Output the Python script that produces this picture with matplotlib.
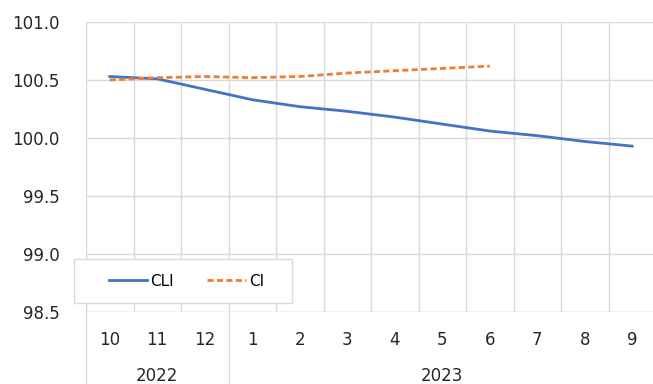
import numpy as np
import matplotlib.pyplot as plt
import matplotlib.transforms as mtransforms
from matplotlib.patches import Rectangle

months = ['10', '11', '12', '1', '2', '3', '4', '5', '6', '7', '8', '9']
years = ['2022', '2023']
year_spans = [(0, 3), (3, 12)]
cli = [100.53, 100.51, 100.42, 100.33, 100.27, 100.23, 100.18, 100.12, 100.06, 100.02, 99.97, 99.93]
ci = [100.50, 100.52, 100.53, 100.52, 100.53, 100.56, 100.58, 100.60, 100.62]

W, H = 653, 384
fig = plt.figure(figsize=(W/100, H/100), dpi=100)
ax = fig.add_axes([86/W, 72/H, 570/W, 290/H])
x = np.arange(len(months))

ax.plot(x, cli, color='#4472c4', lw=2, label='CLI')
ax.plot(x[:len(ci)], ci, color='#ed7d31', lw=2, ls=(0, (2.2, 1.2)), label='CI')

ax.set_xlim(-0.5, 11.5)
ax.set_ylim(98.5, 101.0)
ax.set_yticks(np.arange(98.5, 101.01, 0.5))
ax.set_yticklabels([f'{v:.1f}' for v in np.arange(98.5, 101.01, 0.5)], fontsize=12)
ax.set_xticks(x)
ax.set_xticklabels(months, fontsize=12)
ax.tick_params(axis='both', which='both', length=0, colors='#262626')
ax.tick_params(axis='x', pad=14)
ax.tick_params(axis='y', pad=19)
ax.set_xticks(np.arange(-0.5, 12, 1), minor=True)
ax.grid(True, which='minor', axis='x', color='#d9d9d9', lw=1)
ax.grid(True, which='major', axis='y', color='#d9d9d9', lw=1)
for s in ['top', 'right', 'bottom']:
    ax.spines[s].set_visible(False)
ax.spines['left'].set_color('#d9d9d9')
ax.set_axisbelow(True)

trans = mtransforms.blended_transform_factory(ax.transData, ax.transAxes)
for (a, b), yr in zip(year_spans, years):
    ax.text((a + b - 1) / 2, -0.22, yr, transform=trans, ha='center', va='center',
            fontsize=12, color='#262626')
    ax.plot([a - 0.5, a - 0.5], [0, -0.26], transform=trans, color='#d9d9d9', lw=1, clip_on=False)
ax.axhline(98.5, color='#d9d9d9', lw=1)

# legend box
fig.patches.append(Rectangle((74/W, (H-303)/H), 218/W, 44/H, transform=fig.transFigure,
                             facecolor='white', edgecolor='#d9d9d9', lw=1, zorder=5))
leg = fig.legend(loc='center left', bbox_to_anchor=(109/W, (H-281)/H), ncol=2, fontsize=11,
                 frameon=False, handlelength=2.5, handletextpad=0.2, columnspacing=2.2,
                 borderpad=0, borderaxespad=0)
leg.set_zorder(6)

fig.savefig('out.png', dpi=100)
